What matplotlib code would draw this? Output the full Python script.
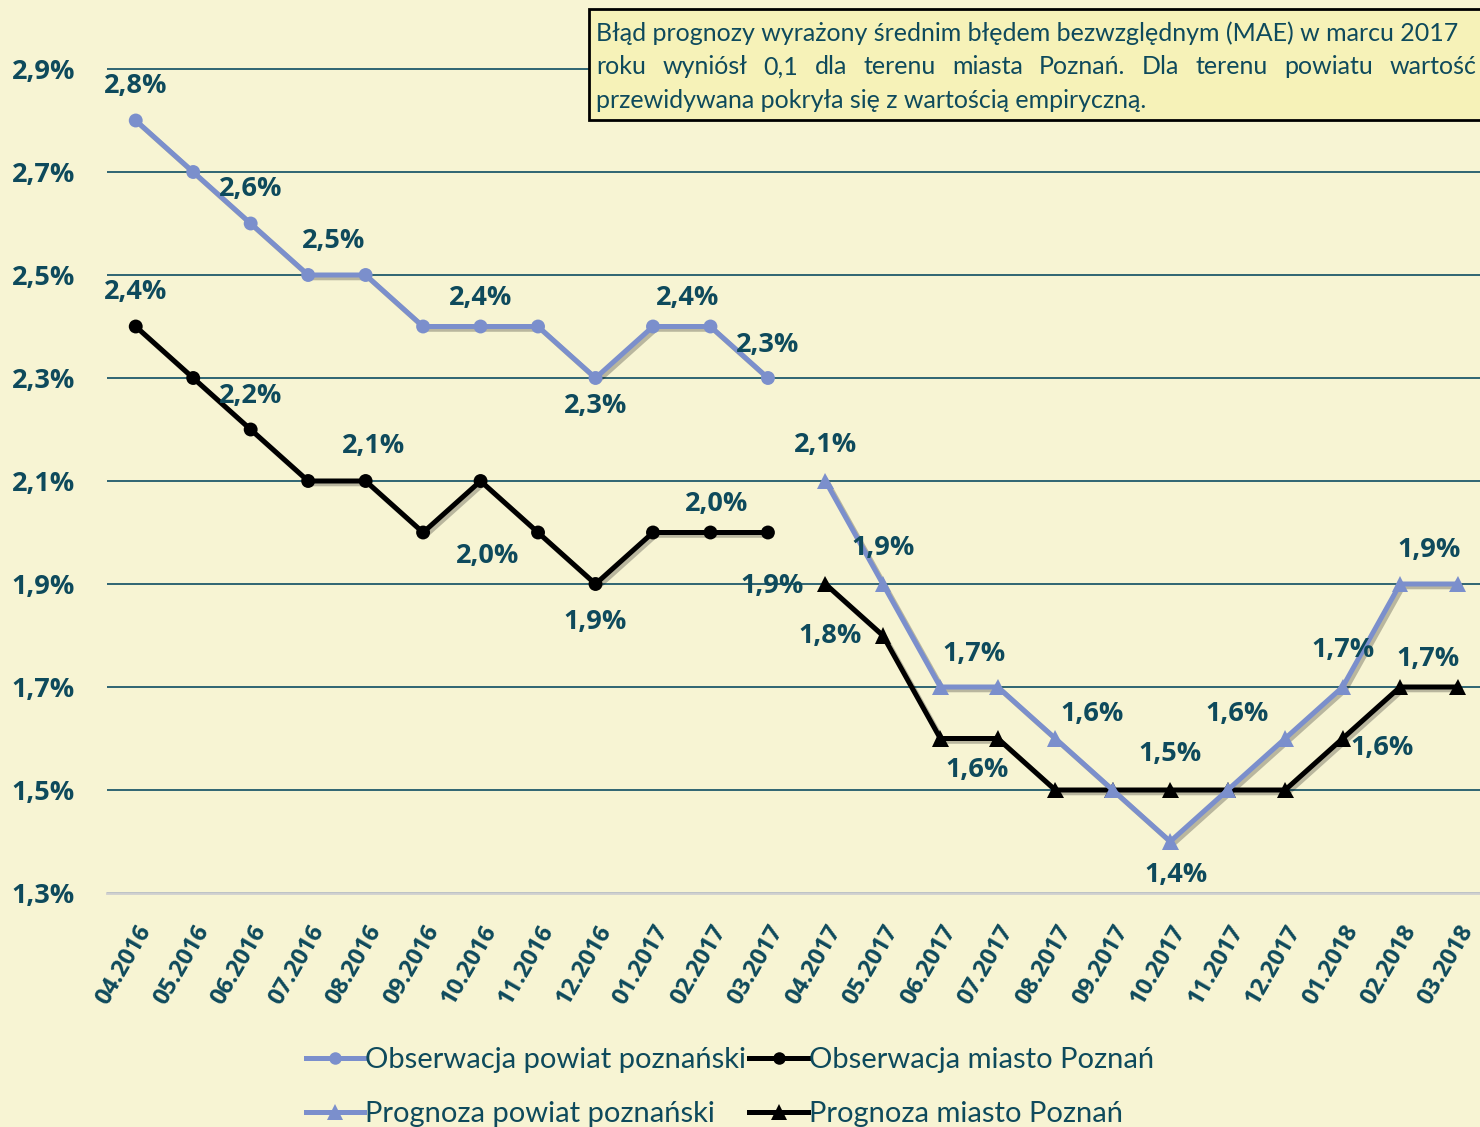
import matplotlib.pyplot as plt
import matplotlib.patheffects as pe
from matplotlib.patches import Rectangle

# months
months = ["04.2016", "05.2016", "06.2016", "07.2016", "08.2016", "09.2016",
          "10.2016", "11.2016", "12.2016", "01.2017", "02.2017", "03.2017",
          "04.2017", "05.2017", "06.2017", "07.2017", "08.2017", "09.2017",
          "10.2017", "11.2017", "12.2017", "01.2018", "02.2018", "03.2018"]

# observed (04.2016 - 03.2017)
obs_powiat = [2.8, 2.7, 2.6, 2.5, 2.5, 2.4, 2.4, 2.4, 2.3, 2.4, 2.4, 2.3]
obs_miasto = [2.4, 2.3, 2.2, 2.1, 2.1, 2.0, 2.1, 2.0, 1.9, 2.0, 2.0, 2.0]
# forecast (04.2017 - 03.2018)
prog_powiat = [2.1, 1.9, 1.7, 1.7, 1.6, 1.5, 1.4, 1.5, 1.6, 1.7, 1.9, 1.9]
prog_miasto = [1.9, 1.8, 1.6, 1.6, 1.5, 1.5, 1.5, 1.5, 1.5, 1.6, 1.7, 1.7]

yticks = [1.3, 1.5, 1.7, 1.9, 2.1, 2.3, 2.5, 2.7, 2.9]

note_lines = [
    "Błąd prognozy wyrażony średnim błędem bezwzględnym (MAE) w marcu 2017",
    "roku wyniósł 0,1 dla terenu miasta Poznań. Dla terenu powiatu wartość",
    "przewidywana pokryła się z wartością empiryczną.",
]

# which points get a value label: (series, index, dx px, dy px)
label_pos = [
    ("obs_powiat", 0, 0, 34), ("obs_powiat", 2, 0, 34), ("obs_powiat", 3, 25, 34),
    ("obs_powiat", 6, 0, 29), ("obs_powiat", 8, 0, -28), ("obs_powiat", 10, -23, 29),
    ("obs_powiat", 11, 0, 33),
    ("obs_miasto", 0, 0, 34), ("obs_miasto", 2, 0, 33), ("obs_miasto", 4, 8, 35),
    ("obs_miasto", 7, -50, -23), ("obs_miasto", 8, 0, -38), ("obs_miasto", 10, 6, 29),
    ("prog_powiat", 0, 0, 36), ("prog_powiat", 1, 0, 36), ("prog_powiat", 2, 34, 33),
    ("prog_powiat", 4, 37, 25), ("prog_powiat", 6, 6, -33), ("prog_powiat", 8, -48, 25),
    ("prog_powiat", 9, 0, 37), ("prog_powiat", 10, 29, 34),
    ("prog_miasto", 0, -53, -2), ("prog_miasto", 1, -53, -1), ("prog_miasto", 2, 37, -32),
    ("prog_miasto", 6, 0, 36), ("prog_miasto", 9, 39, -10), ("prog_miasto", 10, 28, 28),
]

BG = "#F7F4D3"
TEAL = "#0E4A5C"
GRID = "#1F5A6A"
BLUE = "#7B8FCC"

plt.rcParams["font.family"] = ["Lato", "DejaVu Sans"]
BOLD = ["Open Sans", "DejaVu Sans"]

fig = plt.figure(figsize=(14.8, 11.27), dpi=100, facecolor=BG)
ax = fig.add_axes([107 / 1480, 1 - 893 / 1127, 1 - 107 / 1480, 893 / 1127])
ax.set_facecolor(BG)

x_obs = list(range(0, 12))
x_prog = list(range(12, 24))
series = {
    "obs_powiat": (x_obs, obs_powiat, BLUE, "o", "Obserwacja powiat poznański"),
    "obs_miasto": (x_obs, obs_miasto, "black", "o", "Obserwacja miasto Poznań"),
    "prog_powiat": (x_prog, prog_powiat, BLUE, "^", "Prognoza powiat poznański"),
    "prog_miasto": (x_prog, prog_miasto, "black", "^", "Prognoza miasto Poznań"),
}

shadow = [pe.SimpleLineShadow(offset=(2, -2), alpha=0.25, rho=0.5), pe.Normal()]
handles = {}
for key in ["obs_powiat", "obs_miasto", "prog_miasto", "prog_powiat"]:
    xs, ys, col, mk, lab = series[key]
    ln, = ax.plot(xs, ys, color=col, lw=3.6, marker=mk,
                  markersize=10 if mk == "o" else 12,
                  markeredgewidth=0, label=lab, zorder=3, path_effects=shadow)
    handles[key] = ln

for key, i, dx, dy in label_pos:
    xs, ys, _, _, _ = series[key]
    ax.annotate(f"{ys[i]:.1f}%".replace(".", ","), (xs[i], ys[i]),
                xytext=(dx, dy), textcoords="offset pixels",
                ha="center", va="center", fontsize=19.5, fontweight="bold",
                family=BOLD, color=TEAL, zorder=5)

ax.set_xlim(-0.5, 23.39)
ax.set_ylim(1.3, 2.9 + 69 / 515)
ax.set_yticks(yticks)
ax.set_yticklabels([f"{v:.1f}%".replace(".", ",") for v in yticks])
ax.set_xticks(range(len(months)))
ax.set_xticklabels(months, rotation=60, ha="right", rotation_mode="anchor")
ax.tick_params(axis="y", length=0, pad=23, labelsize=19.5, labelcolor=TEAL)
ax.tick_params(axis="x", length=0, pad=20, labelsize=17, labelcolor=TEAL)
for t in ax.get_yticklabels() + ax.get_xticklabels():
    t.set_fontweight("bold")
    t.set_family(BOLD)

ax.grid(axis="y", color=GRID, lw=1.3)
ax.set_axisbelow(True)
for s in ["top", "right", "left"]:
    ax.spines[s].set_visible(False)
ax.spines["bottom"].set_color("#CFCFCF")
ax.spines["bottom"].set_linewidth(2)
ax.spines["bottom"].set_zorder(2.5)

# note box in the top right corner
fig.patches.append(Rectangle((589 / 1480, 1 - 120 / 1127), 0.7, 111 / 1127,
                             transform=fig.transFigure, facecolor="#F6F2B8",
                             edgecolor="black", lw=2, zorder=4))
renderer = fig.canvas.get_renderer()
line_y = [33, 67, 100]
x0 = 596
right = 1476
for k, line in enumerate(note_lines):
    y = 1 - line_y[k] / 1127
    if k == 1:
        words = line.split(" ")
        objs = [fig.text(0, y, w, fontsize=18, color=TEAL, va="center", zorder=6)
                for w in words]
        widths = [o.get_window_extent(renderer).width for o in objs]
        gap = (right - x0 - sum(widths)) / (len(words) - 1)
        xp = x0
        for o, w in zip(objs, widths):
            o.set_x(xp / 1480)
            xp += w + gap
    else:
        fig.text(x0 / 1480, y, line, fontsize=18, color=TEAL, va="center", zorder=6)

order = ["obs_powiat", "prog_powiat", "obs_miasto", "prog_miasto"]
leg = fig.legend([handles[k] for k in order], [series[k][4] for k in order],
                 loc="center", bbox_to_anchor=(730 / 1480, 1 - 1087 / 1127),
                 ncol=2, frameon=False, fontsize=21, handlelength=2.0,
                 handletextpad=0.05, columnspacing=0.1, labelspacing=0.95)
for t in leg.get_texts():
    t.set_color(TEAL)
for h in leg.legend_handles:
    h.set_path_effects([])
    h.set_markersize(9 if h.get_marker() == "o" else 11)

fig.savefig("out.png", dpi=100, facecolor=BG)
